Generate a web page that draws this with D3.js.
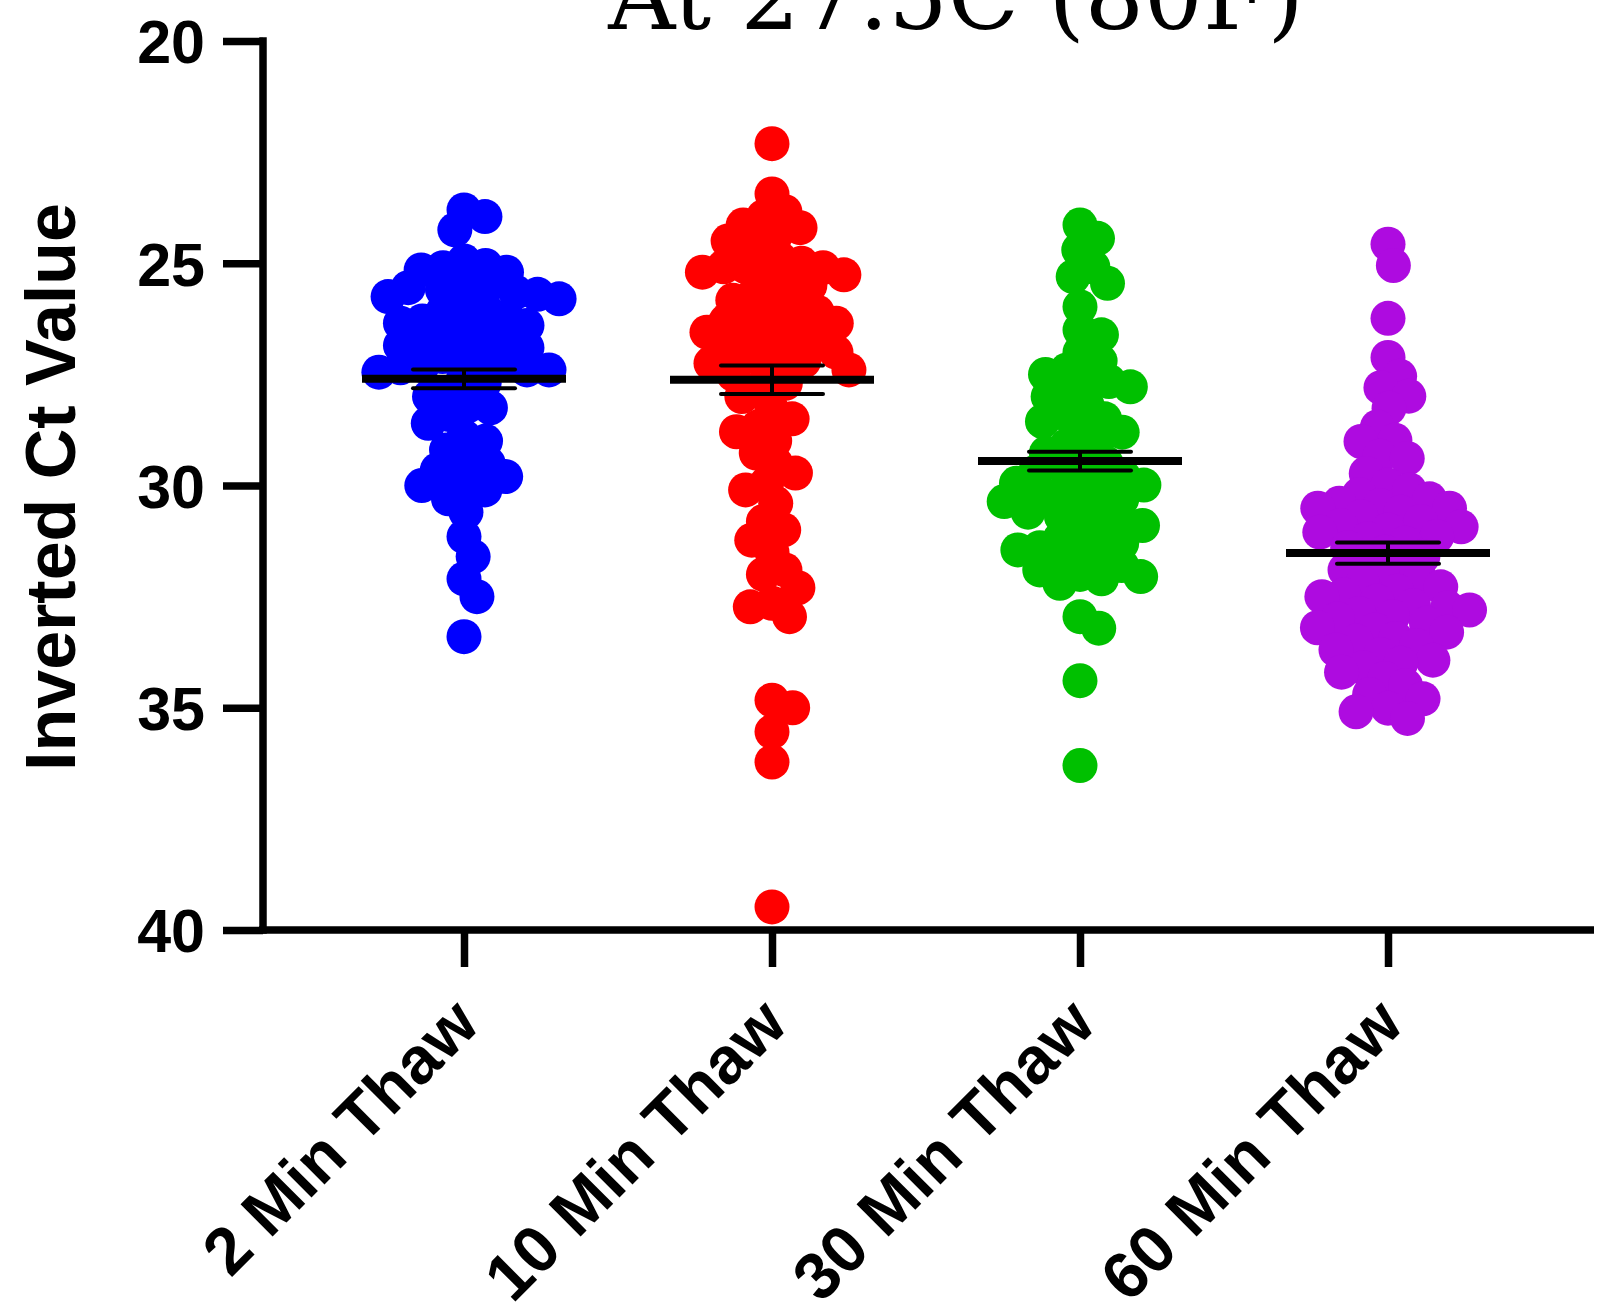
<!DOCTYPE html>
<html>
<head>
<meta charset="utf-8">
<script src="https://cdn.jsdelivr.net/npm/d3@7"></script>
<style>
  html, body { margin: 0; padding: 0; background: #fff; }
  svg { display: block; }
  text { font-family: "Liberation Sans", Arial, sans-serif; font-weight: bold; fill: #000; }
</style>
</head>
<body>
<svg width="1600" height="1311"></svg>
<script>
const title = 'At 27.5C (80F)'
const yLabel = 'Inverted Ct Value'
const categories = ['2 Min Thaw', '10 Min Thaw', '30 Min Thaw', '60 Min Thaw']
const colors = ['#0000ff', '#ff0000', '#00c000', '#ae0be0']
const yTicks = [20, 25, 30, 35, 40]

// Ct values per group
const thaw2 = [
  23.8, 23.95, 24.25,
  24.95, 25.05, 25.1, 25.15, 25.2,
  25.5, 25.55, 25.55, 25.6, 25.65, 25.7, 25.75, 25.8,
  26.0, 26.05, 26.1, 26.2, 26.3, 26.35, 26.4, 26.5, 26.55, 26.6, 26.7, 26.8,
  26.85, 26.9, 27.0, 27.05, 27.1, 27.2, 27.3, 27.35, 27.4, 27.4, 27.45, 27.5,
  27.7, 27.9, 28.0, 28.2, 28.25, 28.4, 28.6, 28.9, 29.0, 29.2, 29.4, 29.5,
  29.65, 29.8, 29.95, 30.0, 30.1, 30.3, 30.6,
  31.15, 31.6, 32.1, 32.5, 33.4
]
const thaw10 = [
  22.31, 23.44, 23.84, 23.95, 24.14, 24.2, 24.36, 24.5, 24.7,
  24.9, 25.0, 25.08, 25.08, 25.1, 25.2, 25.26, 25.3, 25.45, 25.5,
  25.7, 25.83, 25.9, 26.0, 26.1, 26.2, 26.3, 26.35, 26.4, 26.5, 26.55, 26.6,
  26.7, 26.8, 26.88, 26.95, 27.0, 27.1, 27.2, 27.25, 27.33, 27.4, 27.5,
  27.7, 27.78, 28.0, 28.3, 28.5, 28.68, 28.79, 29.0, 29.27, 29.5, 29.72, 29.95,
  30.1, 30.4, 30.81, 31.0, 31.23, 31.5, 31.9, 32.0, 32.3, 32.65, 32.73, 32.95,
  34.83, 35.0, 35.54, 36.22, 39.48
]
const thaw30 = [
  24.14, 24.44, 24.7, 25.08, 25.3, 25.45, 25.98, 26.5, 26.61, 27.0, 27.2,
  27.4, 27.5, 27.6, 27.66, 27.78, 27.9, 28.0, 28.2, 28.37, 28.5, 28.56, 28.7,
  28.8, 29.0, 29.1, 29.27, 29.4, 29.5, 29.6, 29.7, 29.8, 29.9, 29.95, 29.99,
  30.05, 30.15, 30.2, 30.3, 30.36, 30.45, 30.55, 30.6, 30.7, 30.8, 30.9, 31.0,
  31.1, 31.2, 31.3, 31.4, 31.45, 31.5, 31.6, 31.7, 31.8, 31.9, 32.0, 32.05,
  32.1, 32.2,
  32.95, 33.21, 34.39, 36.3
]
const thaw60 = [
  24.57, 25.05, 26.24, 27.12, 27.54, 27.8, 27.99, 28.26, 28.68, 28.98, 29.01,
  29.34, 29.39, 29.73, 29.99, 30.1, 30.2, 30.3, 30.4, 30.45, 30.51, 30.51,
  30.6, 30.7, 30.81, 30.9, 30.93, 31.0, 31.05, 31.15, 31.2, 31.3, 31.4, 31.5,
  31.6, 31.7, 31.8, 31.9, 32.0, 32.1, 32.2, 32.28, 32.38, 32.46, 32.5, 32.6,
  32.7, 32.75, 32.8, 32.88, 32.95, 33.0, 33.1, 33.2, 33.25, 33.3, 33.44, 33.5,
  33.6, 33.7, 33.8, 33.93, 34.0, 34.1, 34.2, 34.34, 34.5, 34.7, 34.8,
  35.01, 35.09, 35.24
]
const groups = [thaw2, thaw10, thaw30, thaw60]

// mean and SEM as drawn in the figure
const means = [27.6, 27.62, 29.45, 31.52]
const sems = [0.21, 0.32, 0.21, 0.24]

const svg = d3.select('svg')
const x = d3.scalePoint().domain(categories).range([464, 1388])
const y = d3.scaleLinear().domain([20, 40]).range([41, 930])

const r = 17.5
const minDist = 22

// simple beeswarm: put each point as close to the centre line as it can go
function swarm (values) {
  const placed = []
  const pts = values.map(v => ({ v, y: y(v), dx: 0 })).sort((a, b) => a.y - b.y)
  for (const p of pts) {
    const cands = [0]
    for (const q of placed) {
      const dy = p.y - q.y
      if (Math.abs(dy) < minDist) {
        const dx = Math.sqrt(minDist * minDist - dy * dy)
        cands.push(q.dx + dx, q.dx - dx)
      }
    }
    cands.sort((a, b) => Math.abs(a) - Math.abs(b))
    for (const c of cands) {
      const ok = placed.every(q => (q.dx - c) ** 2 + (q.y - p.y) ** 2 >= minDist * minDist - 0.01)
      if (ok) { p.dx = c; break }
    }
    placed.push(p)
  }
  return placed
}

// dots
groups.forEach((vals, i) => {
  svg.append('g')
    .attr('fill', colors[i])
    .selectAll('circle')
    .data(swarm(vals))
    .join('circle')
    .attr('cx', d => x(categories[i]) + d.dx)
    .attr('cy', d => d.y)
    .attr('r', r)
})

// mean + SEM
const bars = svg.append('g').attr('stroke', '#000')
categories.forEach((c, i) => {
  const cx = x(c)
  bars.append('line')
    .attr('x1', cx - 102).attr('x2', cx + 102)
    .attr('y1', y(means[i])).attr('y2', y(means[i]))
    .attr('stroke-width', 8)
  bars.append('line')
    .attr('x1', cx).attr('x2', cx)
    .attr('y1', y(means[i] - sems[i])).attr('y2', y(means[i] + sems[i]))
    .attr('stroke-width', 4)
  for (const s of [-1, 1]) {
    bars.append('line')
      .attr('x1', cx - 51).attr('x2', cx + 51)
      .attr('y1', y(means[i] + s * sems[i])).attr('y2', y(means[i] + s * sems[i]))
      .attr('stroke-width', 4)
      .attr('stroke-linecap', 'round')
  }
})

// axes
const yAxis = svg.append('g')
  .attr('transform', 'translate(263,0)')
  .call(d3.axisLeft(y).tickValues(yTicks).tickSize(40).tickPadding(18))
yAxis.select('.domain').remove()
yAxis.selectAll('line').attr('stroke', '#000').attr('stroke-width', 7.5)
yAxis.selectAll('text').attr('font-size', 61).attr('dy', '0.36em')

svg.append('line')
  .attr('x1', 263).attr('x2', 263)
  .attr('y1', y(20) - 3.75).attr('y2', y(40) + 3.75)
  .attr('stroke', '#000').attr('stroke-width', 7.5)

const xAxis = svg.append('g')
  .attr('transform', `translate(0,${y(40)})`)
  .call(d3.axisBottom(x).tickSize(37).tickFormat(''))
xAxis.select('.domain').remove()
xAxis.selectAll('line').attr('stroke', '#000').attr('stroke-width', 7.5)

svg.append('line')
  .attr('x1', 259).attr('x2', 1594)
  .attr('y1', y(40)).attr('y2', y(40))
  .attr('stroke', '#000').attr('stroke-width', 7.5)

// rotated category labels
svg.append('g')
  .selectAll('text')
  .data(categories)
  .join('text')
  .attr('transform', d => `translate(${x(d) + 18},1027) rotate(-45)`)
  .attr('text-anchor', 'end')
  .attr('font-size', 66)
  .text(d => d)

// y axis title
svg.append('text')
  .attr('transform', 'translate(75,487) rotate(-90)')
  .attr('text-anchor', 'middle')
  .attr('font-size', 70)
  .text(yLabel)

// chart title (cut off at the top like the original)
svg.append('text')
  .attr('x', 956)
  .attr('y', 29)
  .attr('text-anchor', 'middle')
  .style('font-family', '"DejaVu Serif", serif')
  .style('font-weight', 'normal')
  .attr('font-size', 93)
  .text(title)
</script>
</body>
</html>
